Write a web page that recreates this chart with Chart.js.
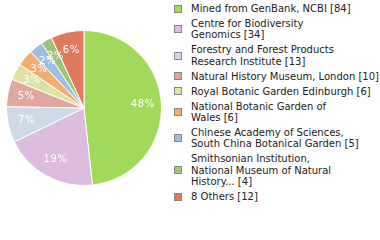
<!DOCTYPE html>
<html>
<head>
<meta charset="utf-8">
<script src="https://cdn.jsdelivr.net/npm/chart.js@4/dist/chart.umd.min.js"></script>
<style>
  html, body { margin: 0; padding: 0; background: #fff; }
  #wrap { position: relative; width: 380px; height: 240px; overflow: hidden; }
  #pie { position: absolute; left: 0; top: 0; width: 168px; height: 216px; }
  #legend {
    position: absolute; left: 174px; top: 3px;
    font-family: "DejaVu Sans", sans-serif;
    font-size: 10px; color: #222;
  }
  .item { display: flex; align-items: center; margin-bottom: 3.9px; }
  .sw { width: 6px; height: 6px; border: 1px solid #888; margin-right: 9px; flex: none; }
  .txt { line-height: 11.2px; white-space: nowrap; }
</style>
</head>
<body>
<div id="wrap">
  <canvas id="pie" width="168" height="216"></canvas>
  <div id="legend"></div>
</div>
<script>
// Sample counts per source institution
const sourceNames = [
  ["Mined from GenBank, NCBI"],
  ["Centre for Biodiversity", "Genomics"],
  ["Forestry and Forest Products", "Research Institute"],
  ["Natural History Museum, London"],
  ["Royal Botanic Garden Edinburgh"],
  ["National Botanic Garden of", "Wales"],
  ["Chinese Academy of Sciences,", "South China Botanical Garden"],
  ["Smithsonian Institution,", "National Museum of Natural", "History..."],
  ["8 Others"]
];
const sourceCounts = [84, 34, 13, 10, 6, 6, 5, 4, 12];
const sliceColors = [
  "#a1d95b", "#dcbcdf", "#cdd9e5", "#dfa89e", "#dfe2a0",
  "#f0ae70", "#9fbfe2", "#a0c27a", "#dd7a5e"
];

const total = sourceCounts.reduce((a, b) => a + b, 0);

// Percent labels drawn inside each slice (whole percent, truncated)
const percentLabels = {
  id: "percentLabels",
  afterDatasetsDraw(chart) {
    const ctx = chart.ctx;
    const meta = chart.getDatasetMeta(0);
    ctx.save();
    ctx.font = "10px 'DejaVu Sans', sans-serif";
    ctx.letterSpacing = "0.6px";
    ctx.fillStyle = "#ffffff";
    ctx.textAlign = "center";
    ctx.textBaseline = "middle";
    meta.data.forEach((arc, i) => {
      const p = arc.getProps(["x", "y", "startAngle", "endAngle", "outerRadius"], true);
      const mid = (p.startAngle + p.endAngle) / 2;
      const r = p.outerRadius * 0.76;
      const pct = Math.floor(sourceCounts[i] / total * 100) + "%";
      ctx.fillText(pct, p.x + Math.cos(mid) * r, p.y + Math.sin(mid) * r);
    });
    ctx.restore();
  }
};

new Chart(document.getElementById("pie"), {
  type: "pie",
  data: {
    labels: sourceNames.map(n => n.join(" ")),
    datasets: [{
      data: sourceCounts,
      backgroundColor: sliceColors,
      borderColor: "#ffffff",
      borderWidth: 1
    }]
  },
  options: {
    responsive: false,
    animation: false,
    layout: { padding: 6 },
    plugins: { legend: { display: false }, tooltip: { enabled: false } }
  },
  plugins: [percentLabels]
});

// Legend beside the pie
const legend = document.getElementById("legend");
sourceNames.forEach((lines, i) => {
  const item = document.createElement("div");
  item.className = "item";
  const sw = document.createElement("div");
  sw.className = "sw";
  sw.style.background = sliceColors[i];
  const txt = document.createElement("div");
  txt.className = "txt";
  lines.forEach((line, j) => {
    const row = document.createElement("div");
    row.textContent = j === lines.length - 1 ? line + " [" + sourceCounts[i] + "]" : line;
    txt.appendChild(row);
  });
  item.appendChild(sw);
  item.appendChild(txt);
  legend.appendChild(item);
});
</script>
</body>
</html>
